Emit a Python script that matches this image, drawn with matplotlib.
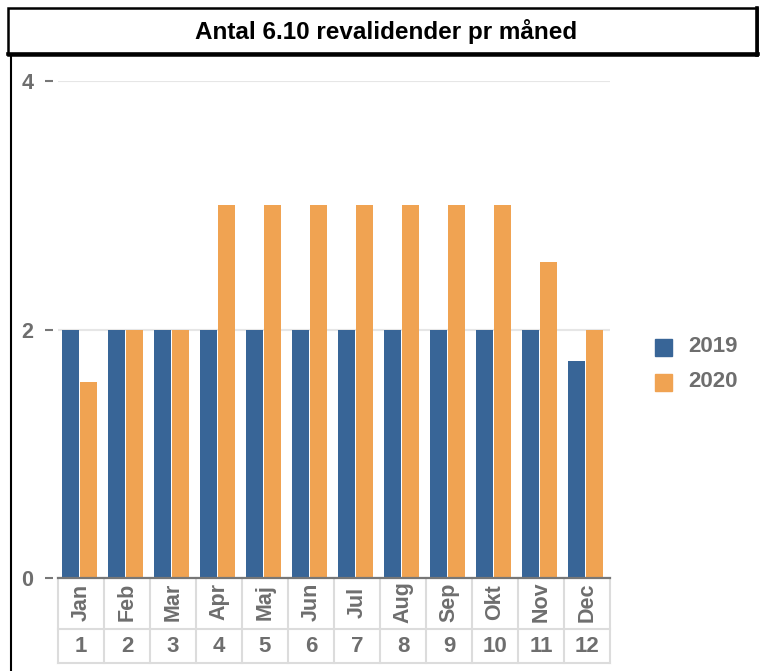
import matplotlib
matplotlib.use('Agg')
import matplotlib.pyplot as plt
from matplotlib.patches import Rectangle
from matplotlib.lines import Line2D
import numpy as np

plt.rcParams['font.family'] = ['Liberation Sans', 'DejaVu Sans']

# ---- data ----
title = "Antal 6.10 revalidender pr måned"
months = ['Jan', 'Feb', 'Mar', 'Apr', 'Maj', 'Jun', 'Jul', 'Aug', 'Sep', 'Okt', 'Nov', 'Dec']
month_nums = ['1', '2', '3', '4', '5', '6', '7', '8', '9', '10', '11', '12']
series_names = ['2019', '2020']
v2019 = [2, 2, 2, 2, 2, 2, 2, 2, 2, 2, 2, 1.75]
v2020 = [1.58, 2, 2, 3, 3, 3, 3, 3, 3, 3, 2.54, 2]
yticks = [0, 2, 4]

# ---- style ----
BLUE = '#386597'
ORANGE = '#f0a352'
GRAY = '#6e6e6e'
W, H = 763, 671

def fx(px):
    return px / W

def fy(py):
    return 1 - py / H

fig = plt.figure(figsize=(W / 100, H / 100), dpi=100)

ax_l, ax_r, ax_t, ax_b = 58, 610, 81, 578
ax = fig.add_axes([fx(ax_l), fy(ax_b), fx(ax_r) - fx(ax_l), fy(ax_t) - fy(ax_b)])
ah = ax_b - ax_t

x = np.arange(len(months))
w = 0.365
ax.bar(x - 0.224, v2019, w, color=BLUE, zorder=3)
ax.bar(x + 0.165, v2020, w, color=ORANGE, zorder=3)
ax.set_xlim(-0.5, len(months) - 0.5)
ax.set_ylim(0, 4)
ax.set_yticks(yticks)
ax.set_yticklabels([str(t) for t in yticks])
ax.set_xticks([])
ax.grid(axis='y', color='#e6e6e6', linewidth=1.5, zorder=0)
ax.set_axisbelow(True)
for s in ['top', 'right']:
    ax.spines[s].set_visible(False)
ax.spines['left'].set_position(('outward', 3.6))
ax.spines['left'].set_visible(False)
ax.spines['bottom'].set_color('#777777')
ax.spines['bottom'].set_linewidth(1.6)
ax.spines['bottom'].set_zorder(4)
ax.tick_params(axis='y', length=5.8, width=1.5, color='#777777', pad=8.5,
               labelsize=15.5, labelcolor=GRAY)
for lab in ax.get_yticklabels():
    lab.set_fontweight('bold')

# ---- two-level category table under the axis ----
trans = ax.get_xaxis_transform()
r1 = -51 / ah
r2 = -85 / ah
tcol = '#dcdcdc'
for b in np.arange(-0.5, len(months)):
    ax.plot([b, b], [0, r2], transform=trans, color=tcol, lw=1.5, clip_on=False, zorder=1)
for r in (r1, r2):
    ax.plot([-0.5, len(months) - 0.5], [r, r], transform=trans, color=tcol, lw=1.5,
            clip_on=False, zorder=1)
for i, m in enumerate(months):
    ax.text(i, -24 / ah, m, transform=trans, rotation=90, ha='center', va='center',
            fontsize=15.5, fontweight='bold', color=GRAY)
    ax.text(i, -69 / ah, month_nums[i], transform=trans, ha='center', va='center',
            fontsize=16, fontweight='bold', color=GRAY)

# ---- legend ----
for name, col, cy in zip(series_names, [BLUE, ORANGE], [347, 382]):
    fig.add_artist(Rectangle((fx(655), fy(cy + 8.5)), fx(672) - fx(655), fy(cy - 8.5) - fy(cy + 8.5),
                             transform=fig.transFigure, color=col))
    fig.text(fx(688), fy(cy), name, ha='left', va='center', fontsize=16,
             fontweight='bold', color=GRAY)

# ---- title box and frame ----
fig.add_artist(Rectangle((fx(8), fy(55)), fx(757) - fx(8), fy(8) - fy(55),
                         transform=fig.transFigure, fill=False, edgecolor='black', lw=1.8))
fig.add_artist(Line2D([fx(8), fx(758)], [fy(54), fy(54)], transform=fig.transFigure,
                      color='black', lw=2.6))
fig.add_artist(Line2D([fx(756.5), fx(756.5)], [fy(8), fy(55)], transform=fig.transFigure,
                      color='black', lw=2.6))
fig.text(fx(386), fy(32), title, ha='center', va='center', fontsize=17.5,
         fontweight='bold', color='black')
fig.add_artist(Line2D([fx(11), fx(11)], [fy(55), 0], transform=fig.transFigure,
                      color='black', lw=1.5))

fig.savefig('out.png', dpi=100)
